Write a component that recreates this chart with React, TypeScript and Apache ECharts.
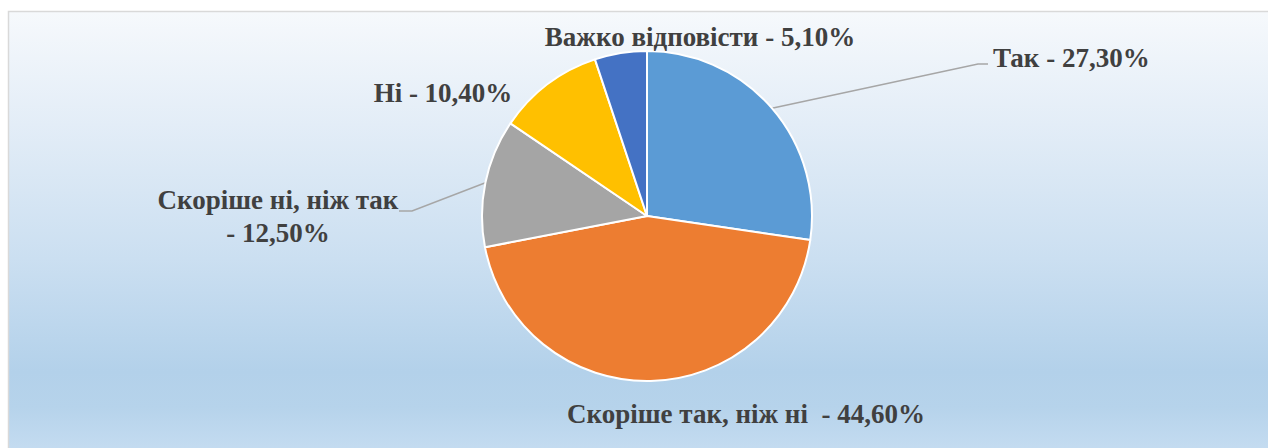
import React, { useEffect, useRef } from "react";
import * as echarts from "echarts";

const categories = ["Так", "Скоріше так, ніж ні", "Скоріше ні, ніж так", "Ні", "Важко відповісти"];
const values = [27.3, 44.6, 12.5, 10.4, 5.1];
const labelTexts = [
  "Так - 27,30%",
  "Скоріше так, ніж ні  - 44,60%",
  "Скоріше ні, ніж так\n- 12,50%",
  "Ні - 10,40%",
  "Важко відповісти - 5,10%",
];
const colors = ["#5B9BD5", "#ED7D31", "#A5A5A5", "#FFC000", "#4472C4"];

// label placement (layout only)
const labelPos: { x: number; y: number; align: string; line?: number[][] }[] = [
  { x: 993, y: 58, align: "left", line: [[978, 64], [988, 64]] },
  { x: 746, y: 414, align: "center" },
  { x: 278, y: 216, align: "center", line: [[412, 211], [399, 211]] },
  { x: 443, y: 93, align: "center" },
  { x: 700, y: 37, align: "center" },
];

export default function App() {
  const ref = useRef<HTMLDivElement>(null);
  useEffect(() => {
    const chart = echarts.init(ref.current!, null, { renderer: "svg" });
    chart.setOption({
      animation: false,
      graphic: [
        {
          type: "rect",
          shape: { x: 8.5, y: 11.5, width: 1270, height: 450 },
          style: {
            fill: new echarts.graphic.LinearGradient(0, 0, 0, 1, [
              { offset: 0, color: "#F6F9FC" },
              { offset: 0.25, color: "#E3EDF7" },
              { offset: 0.55, color: "#CBDFF1" },
              { offset: 0.8, color: "#B3D1EA" },
              { offset: 0.88, color: "#B6D3EB" },
              { offset: 1, color: "#C8DEF2" },
            ]),
            stroke: "#D9D9D9",
            lineWidth: 1.5,
          },
          z: -10,
          silent: true,
        },
      ],
      series: [
        {
          type: "pie",
          center: [647, 216],
          radius: 165,
          startAngle: 90,
          clockwise: true,
          itemStyle: { borderColor: "#FFFFFF", borderWidth: 2 },
          label: {
            show: true,
            position: "outside",
            fontFamily: "Liberation Serif",
            fontWeight: "bold",
            fontSize: 27,
            lineHeight: 33,
            color: "#404040",
            formatter: (p: any) => labelTexts[p.dataIndex],
          },
          labelLine: {
            show: true,
            lineStyle: { color: "#A6A6A6", width: 1.5 },
          },
          labelLayout: (params: any) => {
            const lp = labelPos[params.dataIndex];
            const res: any = {
              x: lp.x,
              y: lp.y,
              align: lp.align,
              verticalAlign: "middle",
            };
            if (lp.line && params.labelLinePoints) {
              res.labelLinePoints = [params.labelLinePoints[0], ...lp.line];
            }
            return res;
          },
          data: categories.map((c, i) => ({
            name: c,
            value: values[i],
            itemStyle: { color: colors[i] },
            labelLine: { show: !!labelPos[i].line },
          })),
        },
      ],
    });
    return () => chart.dispose();
  }, []);
  return (
    <div
      ref={ref}
      style={{ position: "fixed", left: 0, top: 0, width: 1268, height: 448, background: "#FFFFFF" }}
    />
  );
}
